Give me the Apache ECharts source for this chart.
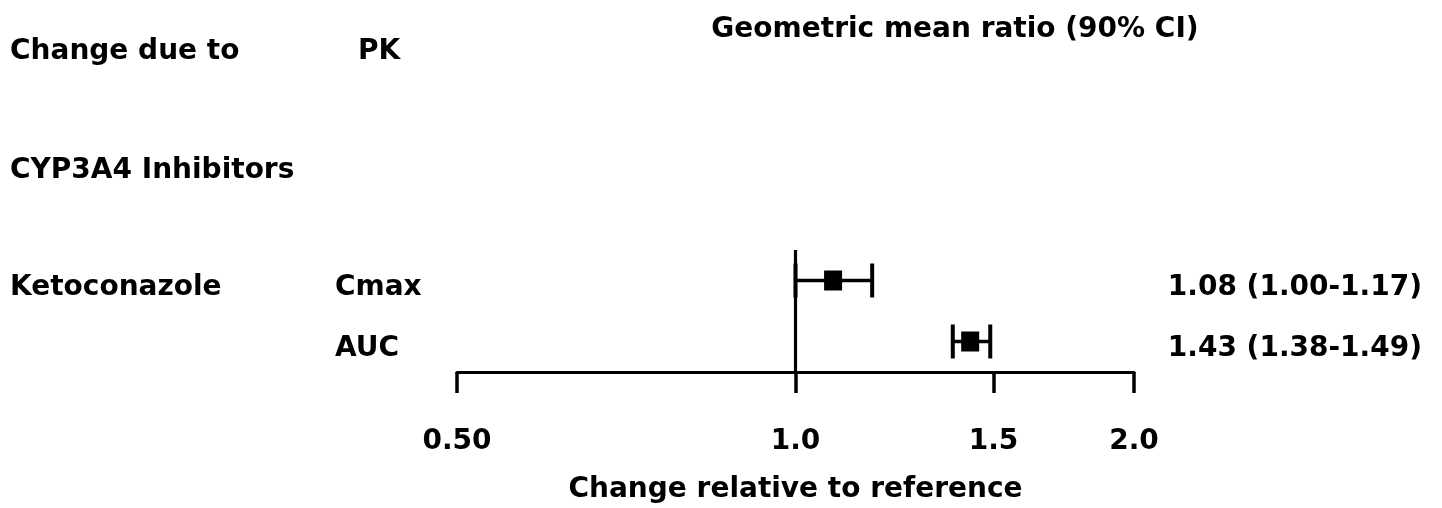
<!DOCTYPE html>
<html>
<head>
<meta charset="utf-8">
<script src="https://cdn.jsdelivr.net/npm/echarts@6.0.0/dist/echarts.min.js"></script>
<style>
html,body{margin:0;padding:0;background:#fff;}
#chart{width:1442px;height:508px;}
</style>
</head>
<body>
<div id="chart"></div>
<script>
const categories = ['Cmax', 'AUC'];
const drugName = 'Ketoconazole';
const groupName = 'CYP3A4 Inhibitors';
const gmr = [1.08, 1.43];
const ciLow = [1.00, 1.38];
const ciHigh = [1.17, 1.49];
const rowPos = [3, 1];
const ciText = ['1.08 (1.00-1.17)', '1.43 (1.38-1.49)'];
const tickValues = [0.5, 1.0, 1.5, 2.0];
const tickLabels = ['0.50', '1.0', '1.5', '2.0'];

const FONT = 'DejaVu Sans';
const FS = 28;
const txt = (text, x, y, align) => ({
  type: 'text', x: x, y: y,
  style: { text: text, fill: '#000', font: 'bold ' + FS + 'px "' + FONT + '"', textAlign: align || 'left', textVerticalAlign: 'middle' }
});

const chart = echarts.init(document.getElementById('chart'));
chart.setOption({
  animation: false,
  backgroundColor: '#fff',
  grid: { left: 457, right: 308, top: 250, bottom: 136, containLabel: false },
  xAxis: {
    type: 'log', logBase: 2, min: 0.5, max: 2,
    axisLine: { show: true, lineStyle: { color: '#000', width: 3.2 } },
    axisTick: { show: true, customValues: tickValues, length: 21, lineStyle: { color: '#000', width: 3.5 } },
    axisLabel: {
      show: true, customValues: tickValues, margin: 56,
      color: '#000', fontSize: FS, fontWeight: 'bold', fontFamily: FONT,
      formatter: function (v) {
        let best = 0;
        for (let i = 0; i < tickValues.length; i++) {
          if (Math.abs(tickValues[i] - v) < Math.abs(tickValues[best] - v)) best = i;
        }
        return tickLabels[best];
      }
    },
    splitLine: { show: false },
    minorTick: { show: false },
    name: 'Change relative to reference',
    nameLocation: 'middle', nameGap: 104,
    nameTextStyle: { color: '#000', fontSize: FS, fontWeight: 'bold', fontFamily: FONT }
  },
  yAxis: { type: 'value', min: 0, max: 4, show: false, splitLine: { show: false } },
  graphic: [
    txt('Change due to', 10, 52),
    txt('PK', 358, 52),
    txt('Geometric mean ratio (90% CI)', 955, 30, 'center'),
    txt(groupName, 10, 171)
  ],
  series: [
    {
      type: 'custom',
      name: 'CI',
      data: categories.map((c, i) => [rowPos[i], ciLow[i], ciHigh[i]]),
      renderItem: function (params, api) {
        const y = api.value(0);
        const p1 = api.coord([api.value(1), y]);
        const p2 = api.coord([api.value(2), y]);
        const h = 17;
        const st = { stroke: '#000', lineWidth: 3.4 };
        const cs = { stroke: '#000', lineWidth: 4 };
        return {
          type: 'group',
          children: [
            { type: 'line', shape: { x1: p1[0], y1: p1[1], x2: p2[0], y2: p2[1] }, style: st },
            { type: 'line', shape: { x1: p1[0], y1: p1[1] - h, x2: p1[0], y2: p1[1] + h }, style: cs },
            { type: 'line', shape: { x1: p2[0], y1: p2[1] - h, x2: p2[0], y2: p2[1] + h }, style: cs }
          ]
        };
      },
      markLine: {
        silent: true, symbol: 'none',
        label: { show: false },
        lineStyle: { color: '#000', width: 3.2, type: 'solid' },
        data: [{ xAxis: 1 }]
      },
      z: 2
    },
    {
      type: 'scatter',
      name: 'GMR',
      symbol: 'rect',
      symbolSize: [18, 20],
      itemStyle: { color: '#000', opacity: 1 },
      data: categories.map((c, i) => [gmr[i], rowPos[i]]),
      z: 3
    },
    {
      type: 'custom',
      name: 'labels',
      data: categories.map((c, i) => [rowPos[i], i]),
      renderItem: function (params, api) {
        const i = api.value(1);
        const yy = api.coord([1, api.value(0)])[1] + 7;
        const children = [
          txt(categories[i], 335, yy),
          txt(ciText[i], 1422, yy, 'right')
        ];
        if (i === 0) children.push(txt(drugName, 10, yy));
        return { type: 'group', children: children };
      },
      z: 4
    }
  ]
});
</script>
</body>
</html>
